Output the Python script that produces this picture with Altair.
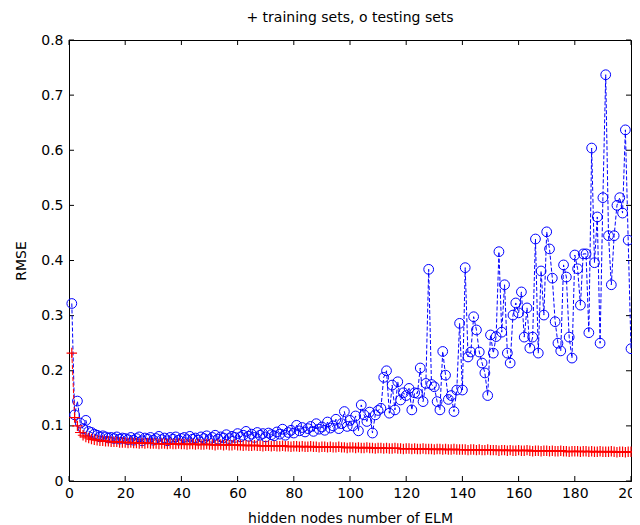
import altair as alt
import pandas as pd

NODES = list(range(1, 201))

TRAIN = [
    0.232, 0.115, 0.100, 0.088, 0.083, 0.080, 0.078, 0.076, 0.075, 0.074,
    0.073, 0.073, 0.072, 0.072, 0.071, 0.071, 0.071, 0.070, 0.070, 0.070,
    0.069, 0.070, 0.069, 0.069, 0.068, 0.069, 0.068, 0.069, 0.068, 0.068,
    0.068, 0.067, 0.068, 0.068, 0.067, 0.068, 0.067, 0.067, 0.068, 0.067,
    0.067, 0.066, 0.067, 0.067, 0.066, 0.067, 0.066, 0.066, 0.067, 0.066,
    0.066, 0.065, 0.066, 0.066, 0.065, 0.066, 0.065, 0.065, 0.066, 0.065,
    0.065, 0.064, 0.065, 0.064, 0.064, 0.065, 0.064, 0.064, 0.063, 0.064,
    0.064, 0.063, 0.064, 0.063, 0.063, 0.064, 0.063, 0.063, 0.062, 0.063,
    0.063, 0.062, 0.063, 0.062, 0.062, 0.063, 0.062, 0.062, 0.061, 0.062,
    0.062, 0.061, 0.062, 0.061, 0.061, 0.062, 0.061, 0.061, 0.060, 0.061,
    0.061, 0.060, 0.061, 0.060, 0.060, 0.061, 0.060, 0.060, 0.059, 0.060,
    0.060, 0.059, 0.060, 0.059, 0.059, 0.060, 0.059, 0.059, 0.058, 0.059,
    0.059, 0.058, 0.059, 0.058, 0.058, 0.059, 0.058, 0.058, 0.058, 0.057,
    0.058, 0.058, 0.057, 0.058, 0.057, 0.057, 0.058, 0.057, 0.057, 0.057,
    0.057, 0.056, 0.057, 0.057, 0.056, 0.057, 0.056, 0.056, 0.057, 0.056,
    0.056, 0.056, 0.055, 0.056, 0.056, 0.055, 0.056, 0.055, 0.055, 0.056,
    0.055, 0.055, 0.056, 0.055, 0.054, 0.055, 0.055, 0.054, 0.055, 0.055,
    0.054, 0.055, 0.054, 0.054, 0.055, 0.054, 0.054, 0.053, 0.054, 0.054,
    0.054, 0.053, 0.054, 0.054, 0.053, 0.054, 0.053, 0.053, 0.054, 0.053,
    0.053, 0.053, 0.054, 0.053, 0.052, 0.053, 0.053, 0.052, 0.053, 0.053,
]

TEST = [
    0.322, 0.120, 0.145, 0.105, 0.095, 0.110, 0.090, 0.088, 0.085, 0.083,
    0.080, 0.082, 0.080, 0.078, 0.079, 0.077, 0.080, 0.076, 0.078, 0.077,
    0.075, 0.079, 0.074, 0.077, 0.080, 0.073, 0.078, 0.076, 0.079, 0.074,
    0.077, 0.081, 0.075, 0.078, 0.073, 0.079, 0.076, 0.080, 0.074, 0.077,
    0.079, 0.075, 0.081, 0.076, 0.078, 0.074, 0.080, 0.077, 0.082, 0.075,
    0.079, 0.083, 0.076, 0.080, 0.078, 0.084, 0.077, 0.081, 0.079, 0.086,
    0.080, 0.083, 0.090, 0.081, 0.085, 0.079, 0.088, 0.083, 0.086, 0.080,
    0.087, 0.084, 0.082, 0.089, 0.085, 0.094, 0.083, 0.088, 0.092, 0.087,
    0.101, 0.091, 0.097, 0.089, 0.095, 0.099, 0.090, 0.104, 0.094, 0.098,
    0.092, 0.107, 0.096, 0.100, 0.112, 0.095, 0.104, 0.126, 0.099, 0.110,
    0.100, 0.118, 0.091, 0.138, 0.120, 0.108, 0.125, 0.087, 0.120, 0.128,
    0.132, 0.188, 0.200, 0.123, 0.174, 0.129, 0.180, 0.147, 0.160, 0.155,
    0.168, 0.129, 0.160, 0.159, 0.205, 0.144, 0.177, 0.384, 0.175, 0.171,
    0.144, 0.129, 0.235, 0.192, 0.148, 0.155, 0.126, 0.165, 0.286, 0.165,
    0.387, 0.225, 0.234, 0.298, 0.274, 0.234, 0.214, 0.196, 0.155, 0.265,
    0.232, 0.262, 0.416, 0.270, 0.356, 0.232, 0.214, 0.301, 0.323, 0.305,
    0.343, 0.261, 0.314, 0.241, 0.261, 0.439, 0.232, 0.381, 0.301, 0.452,
    0.421, 0.368, 0.289, 0.250, 0.236, 0.392, 0.370, 0.261, 0.223, 0.410,
    0.385, 0.319, 0.412, 0.412, 0.269, 0.604, 0.396, 0.479, 0.250, 0.514,
    0.737, 0.445, 0.356, 0.445, 0.500, 0.514, 0.486, 0.637, 0.437, 0.240,
]

X_TICKS = [0, 20, 40, 60, 80, 100, 120, 140, 160, 180, 200]
Y_TICKS = [0, 0.1, 0.2, 0.3, 0.4, 0.5, 0.6, 0.7, 0.8]

TITLE = "+ training sets, o testing sets"
X_TITLE = "hidden nodes number of ELM"
Y_TITLE = "RMSE"

W, H = 562, 441
FONT = "DejaVu Sans"

df = pd.DataFrame({"nodes": NODES, "train": TRAIN, "test": TEST})
xt = pd.DataFrame({"t": X_TICKS})
yt = pd.DataFrame({"t": Y_TICKS})

xs = alt.Scale(domain=[0, 200], nice=False, zero=False)
ys = alt.Scale(domain=[0, 0.8], nice=False)
x_axis = alt.Axis(values=X_TICKS, title=X_TITLE, format="d")
y_axis = alt.Axis(values=Y_TICKS, title=Y_TITLE, format="~g")

base = alt.Chart(df)
X = alt.X("nodes:Q", scale=xs, axis=x_axis)

test_line = base.mark_line(color="#0000ff", strokeDash=[4, 2], strokeWidth=1).encode(
    x=X, y=alt.Y("test:Q", scale=ys, axis=y_axis)
)
test_pts = base.mark_point(shape="circle", size=95, filled=False, color="#0000ff",
                           strokeWidth=1, opacity=1).encode(
    x=X, y=alt.Y("test:Q", scale=ys, axis=y_axis)
)
train_line = base.mark_line(color="#ff0000", strokeDash=[4, 2], strokeWidth=1).encode(
    x=X, y=alt.Y("train:Q", scale=ys, axis=y_axis)
)
train_pts = base.mark_point(shape="M-1,0H1M0,-1V1", size=110, filled=False, color="#ff0000",
                            strokeWidth=1.2, opacity=1).encode(
    x=X, y=alt.Y("train:Q", scale=ys, axis=y_axis)
)

xtick_b = alt.Chart(xt).mark_rule(color="black", strokeWidth=1).encode(
    x=alt.X("t:Q", scale=xs, axis=x_axis), y=alt.value(H), y2=alt.value(H - 5)
)
xtick_t = alt.Chart(xt).mark_rule(color="black", strokeWidth=1).encode(
    x=alt.X("t:Q", scale=xs, axis=x_axis), y=alt.value(0), y2=alt.value(5)
)
ytick_l = alt.Chart(yt).mark_rule(color="black", strokeWidth=1).encode(
    y=alt.Y("t:Q", scale=ys, axis=y_axis), x=alt.value(0), x2=alt.value(5)
)
ytick_r = alt.Chart(yt).mark_rule(color="black", strokeWidth=1).encode(
    y=alt.Y("t:Q", scale=ys, axis=y_axis), x=alt.value(W), x2=alt.value(W - 5)
)

chart = alt.layer(
    xtick_b, xtick_t, ytick_l, ytick_r,
    test_line, test_pts, train_line, train_pts,
).properties(
    width=W, height=H,
    title=alt.TitleParams(TITLE, font=FONT, fontSize=14, fontWeight="normal",
                          color="black", anchor="middle", offset=8),
    autosize=alt.AutoSizeParams(type="none"),
    padding={"left": 61, "top": 32, "right": 1, "bottom": 44},
).configure_view(
    stroke="black", strokeWidth=1
).configure_axis(
    grid=False, ticks=False, domain=True, domainColor="black", domainWidth=1,
    labelFont=FONT, labelFontSize=14, labelColor="black",
    titleFont=FONT, titleFontSize=14, titleFontWeight="normal", titleColor="black",
).configure_axisX(
    labelPadding=5, titlePadding=11, labelFlush=False, labelOverlap=False
).configure_axisY(
    labelPadding=6, titlePadding=12, labelFlush=False, labelOverlap=False
)

chart.save("out.html", embed_options={"renderer": "svg", "actions": False})
